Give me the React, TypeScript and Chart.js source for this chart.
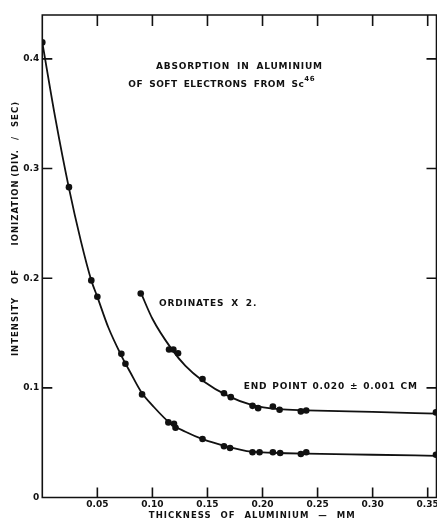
import React, { useEffect, useRef } from "react";
import { Chart, registerables } from "chart.js";

Chart.register(...registerables);

// ---- data ----
const xTickValues = [0.05, 0.1, 0.15, 0.2, 0.25, 0.3, 0.35];
const xTickLabels = ["0.05", "0.10", "0.15", "0.20", "0.25", "0.30", "0.35"];
const yTickValues = [0, 0.1, 0.2, 0.3, 0.4];
const yTickLabels = ["0", "0.1", "0.2", "0.3", "0.4"];

// measured points, lower curve (intensity)
const lowerX = [0.0, 0.0242, 0.0445, 0.05, 0.0718, 0.0755, 0.0906, 0.1145, 0.1196, 0.121, 0.1455, 0.165, 0.1705, 0.1909, 0.1973, 0.2094, 0.216, 0.2348, 0.2397, 0.3575];
const lowerY = [0.415, 0.283, 0.198, 0.183, 0.131, 0.122, 0.094, 0.0685, 0.0673, 0.0636, 0.0533, 0.0467, 0.0452, 0.0412, 0.0412, 0.0412, 0.0406, 0.0397, 0.0412, 0.039];

// measured points, upper curve (ordinates x 2)
const upperX = [0.0894, 0.1151, 0.119, 0.1233, 0.1455, 0.165, 0.1712, 0.1909, 0.196, 0.2094, 0.2155, 0.2348, 0.2397, 0.3575];
const upperY = [0.186, 0.135, 0.135, 0.1315, 0.108, 0.095, 0.0915, 0.0836, 0.0815, 0.083, 0.08, 0.0785, 0.0794, 0.0776];

// hand-drawn smooth curves
const lowerCurveX = [0.0, 0.012, 0.024, 0.035, 0.0445, 0.05, 0.06, 0.072, 0.08, 0.09, 0.1, 0.117, 0.13, 0.145, 0.168, 0.19, 0.21, 0.24, 0.3, 0.358];
const lowerCurveY = [0.415, 0.345, 0.283, 0.234, 0.198, 0.183, 0.155, 0.129, 0.114, 0.096, 0.084, 0.067, 0.06, 0.0535, 0.0465, 0.0418, 0.0408, 0.04, 0.039, 0.038];
const upperCurveX = [0.0894, 0.1, 0.117, 0.13, 0.145, 0.17, 0.19, 0.215, 0.24, 0.3, 0.358];
const upperCurveY = [0.187, 0.163, 0.136, 0.12, 0.107, 0.092, 0.0845, 0.0805, 0.0795, 0.078, 0.0765];

const toPts = (xs: number[], ys: number[]) => xs.map((x, i) => ({ x, y: ys[i] }));

const FONT = "'DejaVu Sans', sans-serif";

const overlayPlugin = {
  id: "overlay",
  afterDraw(chart: any) {
    const { ctx, chartArea, scales } = chart;
    const xs = scales.x;
    const ys = scales.y;
    const { left, right, top, bottom } = chartArea;
    ctx.save();
    ctx.strokeStyle = "#111";
    ctx.lineWidth = 1.6;
    // frame
    ctx.beginPath();
    ctx.moveTo(left, top);
    ctx.lineTo(right, top);
    ctx.lineTo(right, bottom);
    ctx.lineTo(left, bottom);
    ctx.closePath();
    ctx.stroke();
    // inward ticks
    ctx.beginPath();
    xTickValues.forEach((v) => {
      const px = xs.getPixelForValue(v);
      ctx.moveTo(px, bottom);
      ctx.lineTo(px, bottom - 10);
      ctx.moveTo(px, top);
      ctx.lineTo(px, top + 11);
    });
    yTickValues.forEach((v) => {
      if (v === 0) return;
      const py = ys.getPixelForValue(v);
      ctx.moveTo(left, py);
      ctx.lineTo(left + 10, py);
      ctx.moveTo(right, py);
      ctx.lineTo(right - 10, py);
    });
    ctx.stroke();

    // texts
    ctx.fillStyle = "#111";
    ctx.textBaseline = "middle";
    const setF = (size: number, ls: number, ws: number) => {
      ctx.font = `bold ${size}px ${FONT}`;
      (ctx as any).letterSpacing = `${ls}px`;
      (ctx as any).wordSpacing = `${ws}px`;
    };
    const center = (t: string, xv: number, yv: number) => {
      ctx.textAlign = "center";
      ctx.fillText(t, xs.getPixelForValue(xv), ys.getPixelForValue(yv));
    };

    setF(9, 0.8, 3);
    center("ABSORPTION IN ALUMINIUM", 0.179, 0.393);

    // second title line with superscript
    const main = "OF SOFT ELECTRONS FROM Sc";
    setF(9, 0.5, 2.5);
    const wMain = ctx.measureText(main).width;
    ctx.font = `bold 7px ${FONT}`;
    (ctx as any).letterSpacing = "0.5px";
    const wSup = ctx.measureText("46").width;
    const cx = xs.getPixelForValue(0.1629);
    const cy = ys.getPixelForValue(0.3765);
    const x0 = cx - (wMain + wSup) / 2;
    ctx.textAlign = "left";
    ctx.fillText("46", x0 + wMain, cy - 5);
    setF(9, 0.5, 2.5);
    ctx.fillText(main, x0, cy);

    setF(9, 0.8, 3);
    center("ORDINATES X 2.", 0.1506, 0.177);
    setF(9, 0.8, 1);
    center("END POINT 0.020 ± 0.001 CM", 0.262, 0.101);

    // x axis title
    setF(8.5, 1, 5);
    ctx.textAlign = "center";
    ctx.fillText("THICKNESS OF ALUMINIUM — MM", xs.getPixelForValue(0.1907), 516);

    // y axis title (rotated), words placed along the axis
    ctx.save();
    ctx.translate(16, 0);
    ctx.rotate(-Math.PI / 2);
    const yWords: [string, number][] = [
      ["INTENSITY", 0.156],
      ["OF", 0.2015],
      ["IONIZATION", 0.26],
      ["(DIV. / SEC)", 0.327],
    ];
    ctx.textAlign = "center";
    yWords.forEach(([w, v]) => {
      ctx.fillText(w, -ys.getPixelForValue(v), 0);
    });
    ctx.restore();

    ctx.restore();
  },
};

export default function App() {
  const ref = useRef<HTMLCanvasElement | null>(null);
  useEffect(() => {
    if (!ref.current) return;
    const chart = new Chart(ref.current, {
      type: "scatter",
      data: {
        datasets: [
          {
            label: "lower curve",
            data: toPts(lowerCurveX, lowerCurveY),
            showLine: true,
            pointRadius: 0,
            borderColor: "#111",
            borderWidth: 1.8,
            cubicInterpolationMode: "monotone",
          } as any,
          {
            label: "upper curve",
            data: toPts(upperCurveX, upperCurveY),
            showLine: true,
            pointRadius: 0,
            borderColor: "#111",
            borderWidth: 1.8,
            cubicInterpolationMode: "monotone",
          } as any,
          {
            label: "lower points",
            data: toPts(lowerX, lowerY),
            pointRadius: 3.3,
            backgroundColor: "#111",
            borderWidth: 0,
          },
          {
            label: "upper points",
            data: toPts(upperX, upperY),
            pointRadius: 3.3,
            backgroundColor: "#111",
            borderWidth: 0,
          },
        ],
      },
      options: {
        animation: false,
        responsive: false,
        layout: { autoPadding: false, padding: { top: 15, right: 0.5, left: 0, bottom: 0 } },
        plugins: { legend: { display: false }, tooltip: { enabled: false }, title: { display: false } },
        scales: {
          x: {
            type: "linear",
            min: 0,
            max: 0.358,
            grid: { display: false, drawTicks: false },
            border: { display: false },
            afterBuildTicks: (axis: any) => {
              axis.ticks = xTickValues.map((v) => ({ value: v }));
            },
            afterFit: (axis: any) => {
              axis.height = 23.5;
              axis.paddingLeft = 0;
              axis.paddingRight = 0;
            },
            ticks: {
              autoSkip: false,
              maxRotation: 0,
              padding: 2,
              color: "#111",
              font: { family: FONT, size: 9, weight: "bold" },
              callback: (v: any) => {
                const i = xTickValues.findIndex((t) => Math.abs(t - Number(v)) < 1e-9);
                return i >= 0 ? xTickLabels[i] : "";
              },
            },
          },
          y: {
            type: "linear",
            min: 0,
            max: 0.44,
            grid: { display: false, drawTicks: false },
            border: { display: false },
            afterBuildTicks: (axis: any) => {
              axis.ticks = yTickValues.map((v) => ({ value: v }));
            },
            afterFit: (axis: any) => {
              axis.width = 42.3;
              axis.paddingTop = 0;
              axis.paddingBottom = 0;
            },
            ticks: {
              autoSkip: false,
              padding: 3,
              color: "#111",
              font: { family: FONT, size: 9, weight: "bold" },
              callback: (v: any) => {
                const i = yTickValues.findIndex((t) => Math.abs(t - Number(v)) < 1e-9);
                return i >= 0 ? yTickLabels[i] : "";
              },
            },
          },
        },
      },
      plugins: [overlayPlugin],
    });
    return () => chart.destroy();
  }, []);
  return (
    <div style={{ position: "absolute", left: 0, top: 0, width: 437, height: 521, background: "#fff" }}>
      <canvas ref={ref} width={437} height={521} style={{ display: "block" }} />
    </div>
  );
}
